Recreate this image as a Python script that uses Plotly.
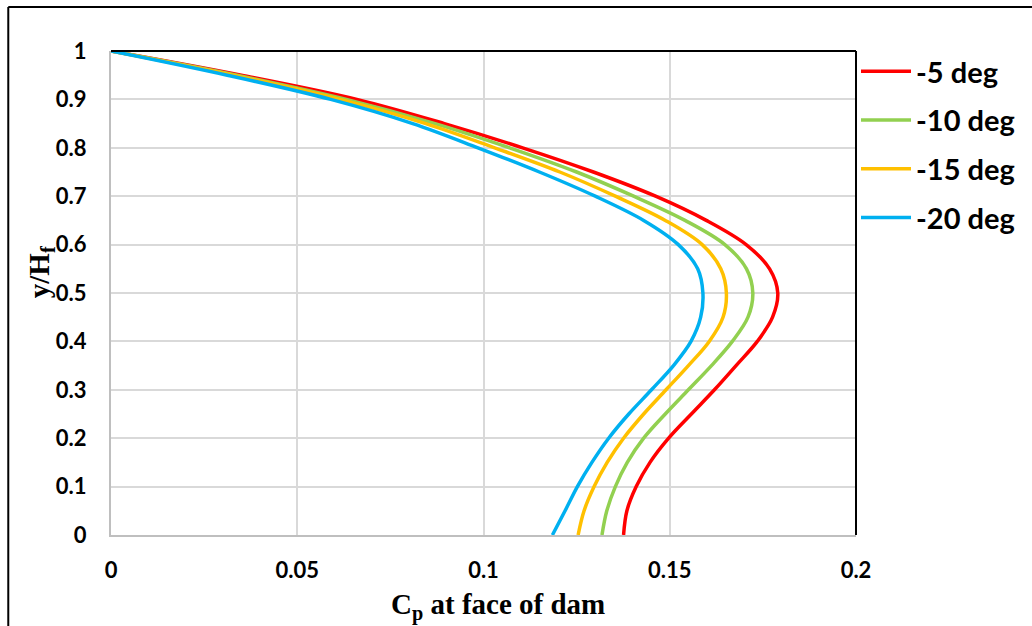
import plotly.graph_objects as go

y_vals = [0, 0.05, 0.1, 0.15, 0.2, 0.25, 0.3, 0.35, 0.4, 0.45, 0.5,
          0.55, 0.6, 0.65, 0.7, 0.75, 0.8, 0.85, 0.9, 0.95, 1.0]

cp_5 = [0.1376, 0.1385, 0.1410, 0.1447, 0.1497, 0.1558, 0.1620, 0.1678, 0.1735, 0.1776, 0.1790,
        0.1768, 0.1705, 0.1598, 0.1462, 0.1295, 0.1105, 0.0895, 0.0660, 0.0350, 0.0]
cp_10 = [0.1318, 0.1331, 0.1354, 0.1386, 0.1430, 0.1488, 0.1550, 0.1612, 0.1668, 0.1710, 0.1723,
         0.1706, 0.1648, 0.1541, 0.1403, 0.1250, 0.1070, 0.0870, 0.0632, 0.0338, 0.0]
cp_15 = [0.1254, 0.1270, 0.1297, 0.1332, 0.1376, 0.1430, 0.1490, 0.1550, 0.1606, 0.1643, 0.1652,
         0.1637, 0.1587, 0.1488, 0.1354, 0.1205, 0.1030, 0.0845, 0.0615, 0.0328, 0.0]
cp_20 = [0.1185, 0.1219, 0.1252, 0.1291, 0.1336, 0.1390, 0.1451, 0.1510, 0.1557, 0.1583, 0.1589,
         0.1575, 0.1523, 0.1430, 0.1300, 0.1150, 0.0985, 0.0810, 0.0590, 0.0312, 0.0]

series_names = ["-5 deg", "-10 deg", "-15 deg", "-20 deg"]
series_values = [cp_5, cp_10, cp_15, cp_20]
series_colors = ["#FF0000", "#92D050", "#FFC000", "#00B0F0"]

x_ticks = [0, 0.05, 0.1, 0.15, 0.2]
x_tick_labels = ["0", "0.05", "0.1", "0.15", "0.2"]
y_ticks = [0, 0.1, 0.2, 0.3, 0.4, 0.5, 0.6, 0.7, 0.8, 0.9, 1.0]
y_tick_labels = ["0", "0.1", "0.2", "0.3", "0.4", "0.5", "0.6", "0.7", "0.8", "0.9", "1"]

fig = go.Figure()
for name, vals, col in zip(series_names, series_values, series_colors):
    fig.add_trace(go.Scatter(
        x=vals, y=y_vals, mode="lines", name=name, legendgroup=name,
        line=dict(color=col, width=3.5, shape="spline", smoothing=1.0),
    ))

W, H = 1032, 626
L, R, T, B = 111, 174, 51, 91
pw, ph = W - L - R, H - T - B

def px_to_paper_x(px):
    return (px - L) / pw

def px_to_paper_y(py):
    return (H - B - py) / ph

sans = "Lato, Carlito, 'Liberation Sans'"
serif = "'Liberation Serif', 'Times New Roman', serif"
tick_font = dict(family=sans, size=22, color="#000000", weight="bold")
title_font = dict(family=serif, size=29, color="#000000", weight="bold")

fig.update_layout(
    width=W, height=H,
    margin=dict(l=L, r=R, t=T, b=B, pad=0),
    paper_bgcolor="white", plot_bgcolor="white",
    showlegend=True,
    legend=dict(
        x=1.0, xanchor="left", y=px_to_paper_y(46), yanchor="top",
        font=dict(family=sans, size=29, color="#000000", weight="bold"),
        tracegroupgap=8, bgcolor="rgba(0,0,0,0)", borderwidth=0,
        itemwidth=50,
    ),
    xaxis=dict(
        range=[0, 0.2], tickvals=x_ticks, ticktext=x_tick_labels,
        showgrid=True, gridcolor="#D9D9D9", gridwidth=1.5,
        zeroline=False, showline=True, linecolor="#BFBFBF", linewidth=2,
        ticks="", ticklabelstandoff=15,
        tickfont=tick_font,
    ),
    yaxis=dict(
        range=[0, 1], tickvals=y_ticks, ticktext=y_tick_labels,
        showgrid=True, gridcolor="#D9D9D9", gridwidth=1.5,
        zeroline=False, showline=True, linecolor="#BFBFBF", linewidth=2,
        ticks="", ticklabelstandoff=18,
        tickfont=tick_font,
    ),
    annotations=[
        dict(text="C<sub>p</sub> at face of dam", xref="paper", yref="paper",
             x=px_to_paper_x(499), y=px_to_paper_y(606), xanchor="center", yanchor="middle",
             showarrow=False, font=title_font),
        dict(text="y/H<sub>f</sub>", xref="paper", yref="paper",
             x=px_to_paper_x(41), y=px_to_paper_y(272), xanchor="center", yanchor="middle",
             textangle=-90, showarrow=False, font=title_font),
    ],
    shapes=[
        # top and right black frame of plot area
        dict(type="line", xref="paper", yref="paper", x0=0, x1=1, y0=1, y1=1,
             line=dict(color="#000000", width=2)),
        dict(type="line", xref="paper", yref="paper", x0=1, x1=1, y0=0, y1=1,
             line=dict(color="#000000", width=2)),
        # outer figure border (top and left)
        dict(type="line", xref="paper", yref="paper",
             x0=px_to_paper_x(8), x1=px_to_paper_x(8), y0=px_to_paper_y(640), y1=px_to_paper_y(7),
             line=dict(color="#000000", width=2)),
        dict(type="line", xref="paper", yref="paper",
             x0=px_to_paper_x(8), x1=px_to_paper_x(1040), y0=px_to_paper_y(7), y1=px_to_paper_y(7),
             line=dict(color="#000000", width=2)),
    ],
)

fig.write_html("out.html")
